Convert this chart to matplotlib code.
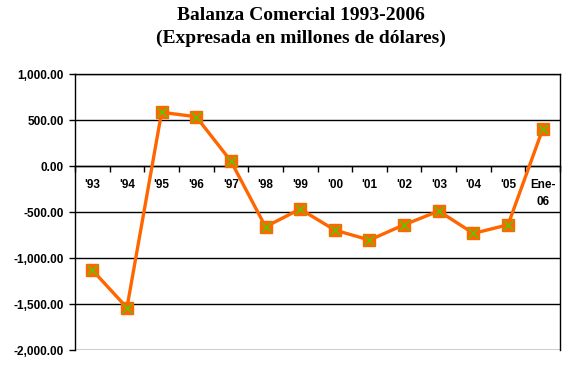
import numpy as np
import matplotlib.pyplot as plt
from matplotlib.ticker import FuncFormatter

# Balanza comercial, millones de dólares
categorias = ["'93", "'94", "'95", "'96", "'97", "'98", "'99", "'00", "'01",
              "'02", "'03", "'04", "'05", "Ene-\n06"]
valores = [-1130, -1540, 584, 536, 54, -660, -467, -696, -804,
           -638, -489, -732, -638, 402]

fig = plt.figure(figsize=(5.68, 3.74), dpi=100)
ax = fig.add_axes([0.132, 0.064, 0.854, 0.738])

x = np.arange(len(categorias))
ax.plot(x, valores, color='#FF6600', lw=2.4, marker='s', ms=9,
        markerfacecolor='#FF6600', markeredgecolor='#FF6600', zorder=3)
ax.plot(x, valores, ls='none', marker='x', ms=7, mew=0.9,
        color='#33DD00', zorder=4)

ax.set_xlim(-0.5, len(categorias) - 0.5)
ax.set_ylim(-2000, 1000)
ax.set_yticks(np.arange(-2000, 1001, 500))
ax.yaxis.set_major_formatter(FuncFormatter(lambda v, p: f'{v:,.2f}'))
ax.grid(axis='y', color='black', lw=1)
ax.set_axisbelow(True)

# eje de categorías en el cero
ax.spines['bottom'].set_position(('data', 0))
ax.set_xticks(x)
ax.set_xticklabels(categorias, fontweight='bold', fontsize=8.5,
                   family='Liberation Sans', linespacing=1.6)
ax.set_xticks(np.arange(-0.5, len(categorias), 1), minor=True)
ax.tick_params(axis='x', which='major', length=0, pad=9)
ax.tick_params(axis='x', which='minor', length=4, width=1, direction='out')
ax.tick_params(axis='y', length=4, width=1, direction='out', pad=4)
for lab in ax.get_xticklabels():
    lab.set_verticalalignment('top')
for lab in ax.get_yticklabels():
    lab.set_fontweight('bold')
    lab.set_fontsize(8.5)
    lab.set_family('Liberation Sans')
for s in ax.spines.values():
    s.set_linewidth(1)

fig.text(0.53, 0.958, 'Balanza Comercial 1993-2006', ha='center', va='center',
         fontsize=14, fontweight='bold', family='Liberation Serif')
fig.text(0.53, 0.898, '(Expresada en millones de dólares)', ha='center',
         va='center', fontsize=14, fontweight='bold', family='Liberation Serif')

fig.savefig('out.png', dpi=100)
